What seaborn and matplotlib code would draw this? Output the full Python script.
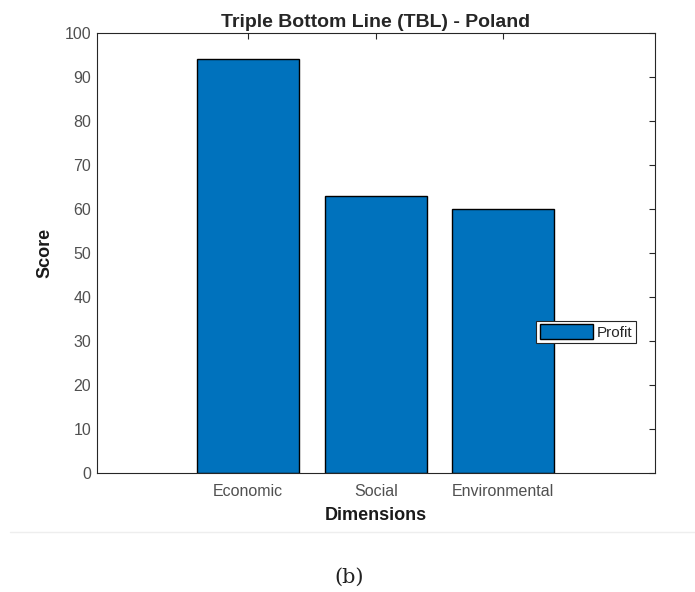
""" Triple Bottom Line bar chart (Poland) """

import pandas as pd
import matplotlib
matplotlib.use("Agg")
import matplotlib.pyplot as plt
import seaborn as sns

# Data
dimensions = ["Economic", "Social", "Environmental"]
scores = [94, 63, 60]
series_name = "Profit"

df = pd.DataFrame({"Dimensions": dimensions, "Score": scores})

sns.set_style("white")
plt.rcParams["font.family"] = ["Liberation Sans", "DejaVu Sans"]

fig = plt.figure(figsize=(6.95, 5.92), dpi=100)
ax = fig.add_axes([0.139, 0.2015, 0.8033, 0.7428])

sns.barplot(data=df, x="Dimensions", y="Score", color="#0072BD", saturation=1,
            edgecolor="black", linewidth=1.0, width=0.8, label=series_name, ax=ax)

ax.set_xlim(-1.19, 3.19)
ax.set_ylim(0, 100)
ax.set_yticks(range(0, 101, 10))

# MATLAB-like box with inward ticks
for s in ax.spines.values():
    s.set_visible(True)
    s.set_color("#262626")
    s.set_linewidth(0.8)
ax.tick_params(direction="in", top=True, right=True, length=4, width=0.8,
               color="#262626", labelsize=11.5, labelcolor="#505050")
ax.tick_params(axis="x", pad=8)
ax.tick_params(axis="y", pad=4)

ax.set_title("Triple Bottom Line (TBL) - Poland", fontsize=14, fontweight="bold", pad=4)
ax.set_xlabel("Dimensions", fontsize=13, fontweight="bold", color="#1a1a1a", labelpad=6)
ax.set_ylabel("Score", fontsize=13, fontweight="bold", color="#1a1a1a", labelpad=8)

leg = ax.legend(loc="center right", bbox_to_anchor=(0.966, 0.32), fontsize=11,
                fancybox=False, framealpha=1, edgecolor="#262626",
                handlelength=3.5, handleheight=1.05, borderpad=0.25, handletextpad=0.2,
                borderaxespad=0)
leg.get_frame().set_linewidth(0.8)

# Caption area below the figure
fig.add_artist(plt.Line2D([0.015, 1.0], [1 - 532 / 592] * 2, color="#eeeeee", lw=1))
fig.text(0.503, 1 - 577 / 592, "(b)", ha="center", va="center", fontsize=15,
         family="DejaVu Serif", color="#222222")

fig.savefig("out.png", dpi=100)
